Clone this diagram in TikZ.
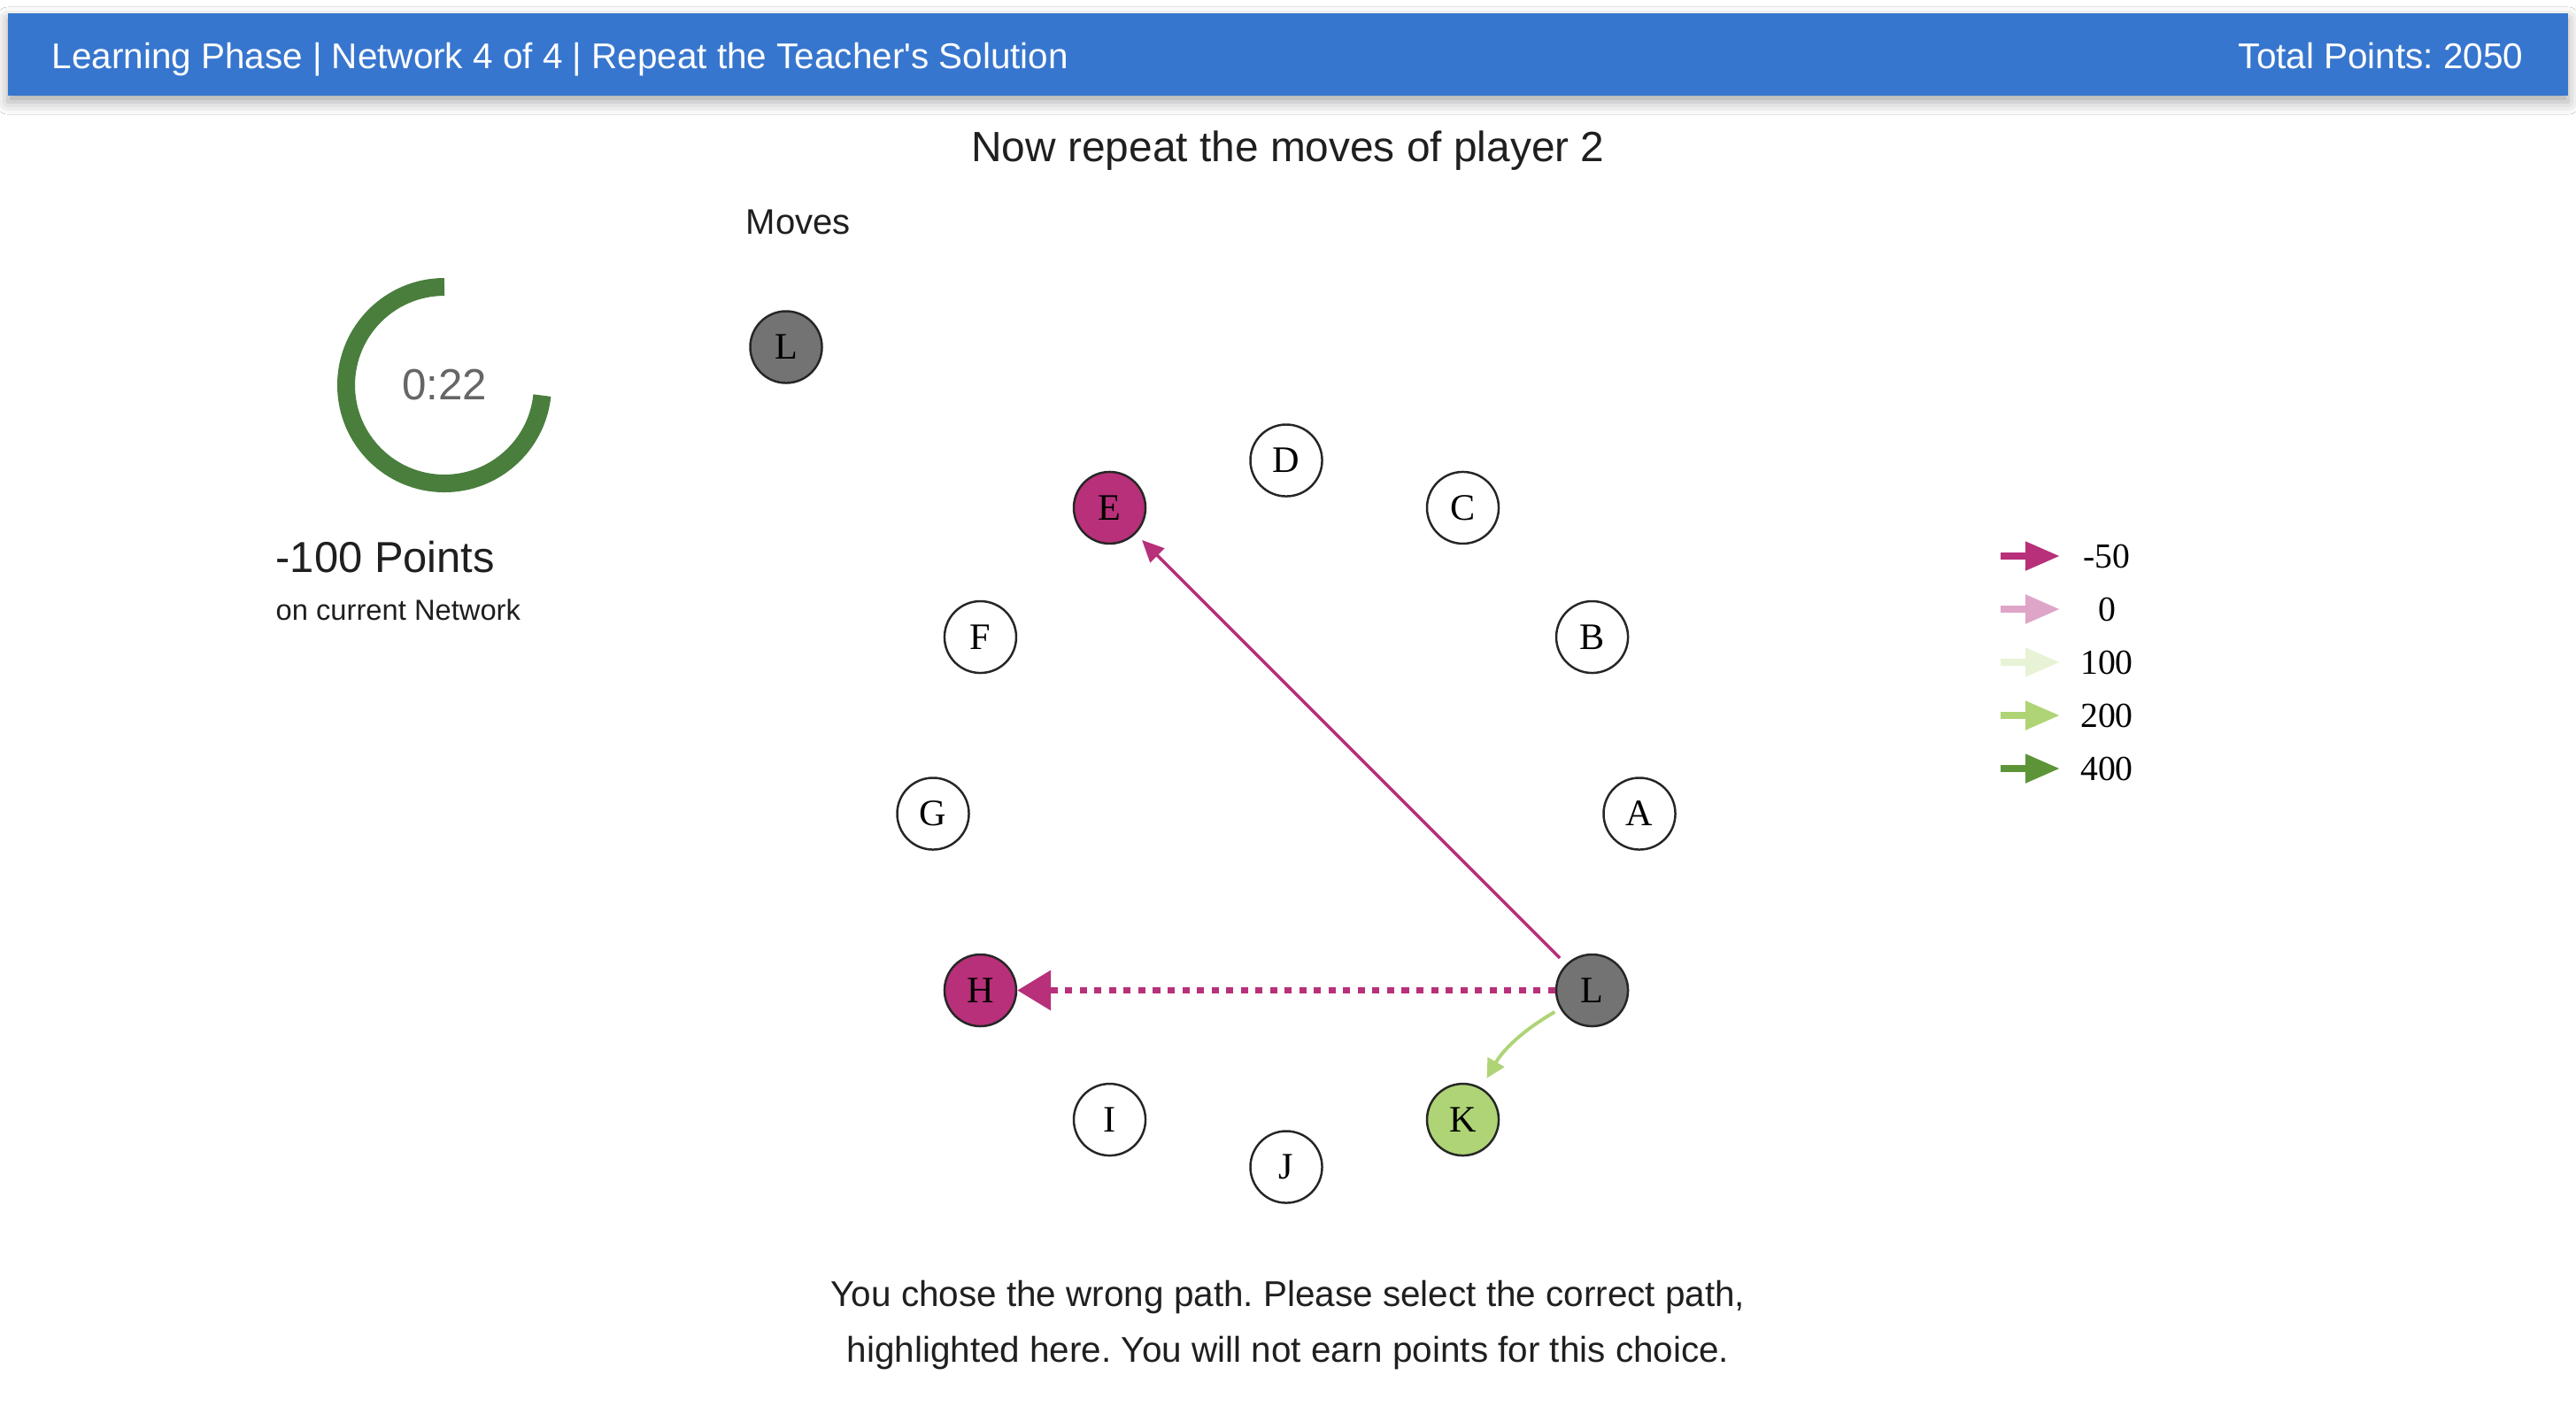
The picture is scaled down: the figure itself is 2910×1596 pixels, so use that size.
\documentclass[tikz,border=0pt]{standalone}
\usepackage{fontspec}
\setmainfont{Liberation Serif}
\newfontfamily\uifont{Liberation Sans}
\usetikzlibrary{arrows.meta,shadows.blur}
\frenchspacing

\definecolor{barblue}{RGB}{55,118,206}
\definecolor{timergreen}{RGB}{73,126,61}
\definecolor{lossred}{RGB}{183,48,121}
\definecolor{zeropink}{RGB}{222,165,200}
\definecolor{paleleaf}{RGB}{232,243,214}
\definecolor{leafgreen}{RGB}{174,212,118}
\definecolor{deepleaf}{RGB}{94,148,56}
\definecolor{stonegray}{RGB}{115,115,115}

\tikzset{
    netnode/.style={circle,draw=black!85,line width=0.7pt,minimum size=0.81cm,inner sep=0pt,font=\fontsize{12}{12}\selectfont},
    uitext/.style={font=\uifont\fontsize{#1}{#1}\selectfont,text=black!88,inner sep=0pt},
}

\begin{document}
\begin{tikzpicture}[x=0.01cm,y=-0.01cm]
            \fill[white] (0,0) rectangle (2910,1596);
            \useasboundingbox (0,0) rectangle (2910,1596);

            % header bar
            \fill[barblue,blur shadow={shadow xshift=0pt,shadow yshift=-2pt,shadow blur radius=4pt,shadow opacity=35}] (9,15) rectangle (2901,108);
            \node[uitext=11.5,text=white,anchor=base west] (barleft) at (58,77) {Learning Phase | Network 4 of 4 | Repeat the Teacher's Solution};
            \node[uitext=11.5,text=white,anchor=base east] (barright) at (2851,77) {Total Points: 2050};

            \node[uitext=13.6,anchor=base] (title) at (1455,182) {Now repeat the moves of player 2};
            \node[uitext=11.4,anchor=base west] (moves) at (842,264) {Moves};
            \node[netnode,fill=stonegray] (mL) at (888,392) {L};

            % timer
            \draw[timergreen,line width=5.7pt] (502,324) arc[start angle=-90,end angle=-354,radius=111];
            \node[uitext=14,text=black!60,anchor=base] (clock) at (502,451) {0:22};
            \node[uitext=13.9,anchor=base west] (pts) at (311,646) {-100 Points};
            \node[uitext=9.3,anchor=base west] (ptsnote) at (311,700) {on current Network};

            % network
            \foreach \lbl/\fillc [count=\i from 0] in {D/white,C/white,B/white,A/white,L/stonegray,K/leafgreen,J/white,I/white,H/lossred,G/white,F/white,E/lossred} {
                \node[netnode,fill=\fillc] (n\lbl) at ({1453+399*sin(30*\i)},{919-399*cos(30*\i)}) {\lbl};
            }
            \draw[lossred,line width=1pt,shorten <=2.8pt,shorten >=2.8pt,-{Triangle[length=7pt,width=6.3pt]}] (nL) -- (nE);
            \draw[lossred,line width=2pt,dash pattern=on 2.3pt off 2.4pt,-{Triangle[length=10.8pt,width=12.5pt]}] (nL) -- (nH);
            \draw[leafgreen,line width=1.1pt,shorten <=2pt,shorten >=3.5pt,-{Triangle[length=6pt,width=6pt]}] (nL) to[bend right=15] (nK);

            % legend
            \foreach \val/\col [count=\r from 0] in {-50/lossred,0/zeropink,100/paleleaf,200/leafgreen,400/deepleaf} {
                \draw[\col,line width=2.3pt,-{Triangle[length=11.1pt,width=8.8pt]}] (2260,{628+60*\r}) -- (2327,{628+60*\r});
                \node[font=\fontsize{11.3}{11.3}\selectfont] (leg\r) at (2380,{628+60*\r}) {\val};
            }

            \node[uitext=11.5,anchor=base] (msgA) at (1455,1475) {You chose the wrong path. Please select the correct path,};
            \node[uitext=11.5,anchor=base] (msgB) at (1455,1538) {highlighted here. You will not earn points for this choice.};
        \end{tikzpicture}
\end{document}
